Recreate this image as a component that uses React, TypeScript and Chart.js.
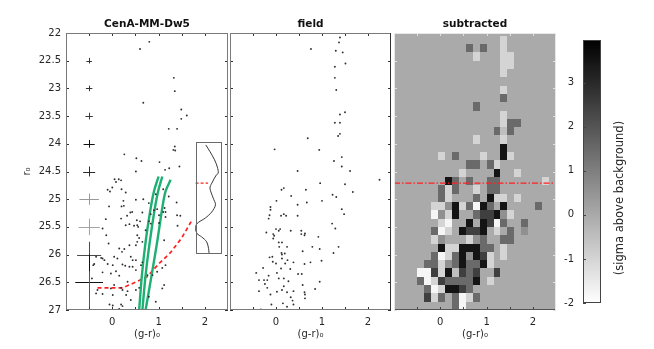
import React, { useEffect, useRef } from "react";
import { Chart, registerables } from "chart.js";

Chart.register(...registerables);

const FONT = "'DejaVu Sans', 'Liberation Sans', sans-serif";
const INK = "#262626";
Chart.defaults.font.family = FONT;

// ---------- axes ----------
const colorRange = [-1, 2.5];
const magRange = [22, 27];
const colorTicks = [-0.5, 0, 0.5, 1, 1.5, 2];
const colorTickLabels = ["", "0", "", "1", "", "2"];
const magTicks = [22, 22.5, 23, 23.5, 24, 24.5, 25, 25.5, 26, 26.5, 27];
const magTickLabels = ["22", "22.5", "23", "23.5", "24", "24.5", "25", "25.5", "26", "26.5", "27"];

const panelTitles = ["CenA-MM-Dw5", "field", "subtracted"];
const colorAxisTitle = "(g-r)₀";
const magAxisTitle = "r₀";
const colorbarTitle = "(sigma above background)";

// ---------- CenA-MM-Dw5 stars ----------
const dw5Color = [
  0.80, 0.60, 1.33, 1.35, 0.67, 1.49, 1.49, 1.61, 1.22, 1.40, 1.35, 1.32, 1.36, 0.26, 0.52, 0.63, 1.02, 1.14, 1.23, 1.45,
  0.51, 0.05, 0.14, 0.19, 0.08, 0.00, 0.20, -0.05, 0.29, 0.94, 1.10, 1.22, 0.51, 0.24, 0.67, 0.79, 0.20, 0.25, 1.39, 0.39,
  0.65, 0.32, 0.97, 1.10, 1.15, 0.83, 1.01, 1.15, 1.40, -0.14, 0.19, 0.53, 0.60, 0.37, 0.54, 0.56, 0.79, 0.83, 1.01, 1.47,
  1.41, 0.47, 0.72, 1.12, -0.08, 0.15, 0.21, 0.26, -0.24, -0.41, -0.17, 0.04, 0.11, 0.22, 0.28, 0.40, 0.44, 0.51, 0.54, 0.58,
  0.37, 0.62, 0.44, 0.51, 0.08, -0.03, -0.21, -0.44, 0.15, 0.33, -0.03, 0.19, 0.22, -0.35, -0.21, 0.01, 0.30, 0.33, -0.06, 0.01,
  0.19, 0.22, 0.15, 0.79, 0.94, 0.40, 1.08, 1.12, 0.87, 0.97, 1.15, -0.10, 0.90, 1.13, -0.32, 0.04, 0.51, 0.58, 0.76, 1.08,
  0.65, 0.51, 0.37, 0.01, -0.10, -0.21, -0.35, -0.39, -0.07, -0.21, -0.13, 0.29, 0.43, 0.54, 0.65,
];
const dw5Mag = [
  22.16, 22.29, 22.81, 23.05, 23.26, 23.38, 23.55, 23.49, 23.73, 23.73, 24.05, 24.11, 24.12, 24.19, 24.26, 24.31, 24.33, 24.47, 24.44, 24.41,
  24.50, 24.64, 24.64, 24.66, 24.69, 24.79, 24.82, 24.86, 24.88, 24.91, 24.82, 24.95, 25.01, 25.03, 25.00, 25.07, 25.13, 25.12, 25.06, 25.24,
  25.24, 25.30, 25.18, 25.23, 25.23, 25.27, 25.29, 25.32, 25.29, 25.36, 25.35, 25.38, 25.40, 25.45, 25.47, 25.50, 25.40, 25.44, 25.43, 25.30,
  25.48, 25.48, 25.56, 25.74, 25.80, 25.89, 25.95, 25.90, 26.06, 26.19, 26.10, 26.04, 26.07, 26.18, 26.20, 26.04, 26.10, 25.83, 25.77, 25.70,
  25.83, 26.19, 26.22, 26.28, 26.30, 26.34, 26.32, 26.43, 26.38, 26.49, 26.61, 26.60, 26.64, 26.70, 26.71, 26.73, 26.73, 26.66, 26.90, 26.92,
  26.90, 26.93, 26.98, 26.76, 26.85, 26.82, 26.61, 26.55, 26.37, 26.31, 26.19, 24.83, 25.20, 25.16, 26.64, 26.55, 26.64, 26.60, 26.37, 26.24,
  26.14, 26.10, 26.22, 26.19, 26.17, 26.07, 26.04, 26.17, 25.13, 25.53, 25.65, 25.47, 25.23, 25.65, 25.77,
];

// ---------- field stars ----------
const fieldColor = [
  1.39, 1.37, 0.76, 1.30, 1.45, 1.51, 1.28, 1.28, 1.31, 1.50, 1.39, 1.28, 1.39, 1.39, 1.35, 0.69, -0.03, 0.94, 1.43, 1.26,
  1.43, 0.47, 1.61, 2.25, 0.96, 1.50, 0.17, 0.12, 0.65, 1.67, 1.23, 1.31, 0.33, 0.01, 0.67, 1.00, 0.47, -0.12, -0.12, -0.14,
  -0.16, 0.17, 0.22, 0.11, 0.47, 1.43, 1.48, 1.22, 1.29, 0.00, 0.09, 0.06, -0.21, -0.06, -0.04, -0.06, 0.32, 0.55, 0.55, 0.63,
  0.62, 0.92, 0.06, 0.13, 0.07, 0.24, 0.79, 0.95, 1.36, 0.58, 1.25, 0.12, 0.19, 0.13, -0.14, -0.08, -0.07, 0.00, 0.13, 0.20,
  0.38, 0.25, 0.62, 0.75, 0.99, -0.28, 0.11, 0.31, 0.56, 0.48, -0.43, 0.02, -0.37, -0.26, -0.19, -0.16, 0.06, 0.17, 0.27, 0.95,
  -0.24, 0.17, 0.58, -0.19, -0.37, 0.85, 0.02, 0.13, 0.24, 0.38, 0.62, 0.63, -0.12, 0.32, 0.36, 0.15, -0.10, 0.38, 0.24, -0.33,
  0.63,
];
const fieldMag = [
  22.08, 22.17, 22.29, 22.32, 22.35, 22.55, 22.61, 22.81, 23.03, 23.43, 23.47, 23.62, 23.62, 23.82, 23.86, 23.90, 24.10, 24.11, 24.24, 24.31,
  24.41, 24.49, 24.49, 24.65, 24.71, 24.73, 24.80, 24.83, 24.83, 24.87, 24.92, 24.96, 24.94, 25.03, 25.06, 25.03, 25.10, 25.14, 25.19, 25.29,
  25.35, 25.27, 25.30, 25.30, 25.30, 25.18, 25.27, 25.44, 25.53, 25.54, 25.54, 25.57, 25.60, 25.63, 25.66, 25.71, 25.57, 25.57, 25.63, 25.62,
  25.65, 25.68, 25.78, 25.78, 25.86, 25.86, 25.86, 25.90, 25.86, 25.94, 25.97, 25.97, 25.98, 26.00, 26.05, 26.04, 26.13, 26.16, 26.07, 26.16,
  26.14, 26.10, 26.17, 26.14, 26.11, 26.24, 26.25, 26.26, 26.35, 26.35, 26.33, 26.33, 26.46, 26.46, 26.46, 26.38, 26.43, 26.43, 26.48, 26.49,
  26.53, 26.57, 26.55, 26.60, 26.66, 26.62, 26.67, 26.64, 26.68, 26.66, 26.68, 26.72, 26.72, 26.77, 26.83, 26.88, 26.90, 26.90, 26.94, 26.99,
  26.79,
];

// ---------- photometric error crosses ----------
const errColor = -0.5;
const errMag = [22.5, 23, 23.5, 24, 24.5, 25, 25.5, 26, 26.5, 27];
const errColorHalf = [0.06, 0.07, 0.08, 0.12, 0.13, 0.21, 0.23, 0.26, 0.3, 0.24];
const errMagHalf = [0.05, 0.05, 0.06, 0.07, 0.09, 0.1, 0.15, 0.23, 0.5, 0.7];

// ---------- isochrones ----------
const iso1Color = [0.58, 0.64, 0.72, 0.83, 0.9, 1.0];
const iso1Mag = [27.0, 26.37, 25.77, 25.16, 24.86, 24.59];
const iso2Color = [0.65, 0.72, 0.81, 0.92, 0.99, 1.08];
const iso2Mag = [27.0, 26.37, 25.77, 25.16, 24.86, 24.59];
const iso3Color = [0.72, 0.85, 0.97, 1.08, 1.15, 1.26];
const iso3Mag = [27.0, 26.37, 25.77, 25.16, 24.86, 24.65];

// ---------- completeness limit ----------
const limitColor = [-0.32, 0.22, 0.5, 0.75, 1.0, 1.25, 1.5, 1.72];
const limitMag = [26.6, 26.6, 26.5, 26.4, 26.17, 25.97, 25.7, 25.38];

// ---------- inset luminosity profile ----------
const insetFrameColor = [1.8, 2.35];
const insetFrameMag = [23.97, 25.97];
const insetProfileColor = [2.02, 2.11, 2.21, 2.27, 2.29, 2.25, 2.15, 2.11, 2.18, 2.23, 2.15, 2.01, 1.83, 1.8, 1.83, 1.93, 2.04, 2.08, 2.09];
const insetProfileMag = [24.02, 24.14, 24.29, 24.42, 24.53, 24.56, 24.71, 24.8, 24.98, 25.1, 25.23, 25.34, 25.44, 25.53, 25.62, 25.68, 25.77, 25.89, 25.97];
const insetMarkColor = [1.8, 2.07];
const tipMag = 24.71;

// ---------- subtracted density map ----------
const binColorEdges = [
  -0.95, -0.8, -0.65, -0.5, -0.35, -0.2, -0.05, 0.1, 0.25, 0.4, 0.55, 0.7,
  0.85, 1.0, 1.15, 1.3, 1.45, 1.6, 1.75, 1.9, 2.05, 2.2, 2.35, 2.5,
];
const binMagEdges = [
  22.05, 22.2, 22.35, 22.5, 22.65, 22.8, 22.95, 23.1, 23.25, 23.4, 23.55, 23.7,
  23.85, 24.0, 24.15, 24.3, 24.45, 24.6, 24.75, 24.9, 25.05, 25.2, 25.35, 25.5,
  25.65, 25.8, 25.95, 26.1, 26.25, 26.4, 26.55, 26.7, 26.85, 27.0,
];
const sigmaLevels: Record<string, number> = { ".": 0, w: -1.8, l: -1.0, m: -0.5, g: 0.6, d: 1.5, D: 2.5, k: 3.5 };
const sigmaRows = [
  "...............l.......",
  "..........d.d..l.......",
  "...........l...ll......",
  "...............ll......",
  "...............l.......",
  ".......................",
  "...............l.......",
  "...............d.......",
  "...........d...........",
  "...............l.......",
  "...............ldd.....",
  "..............dmd......",
  "...........l...l.......",
  "...............k.......",
  "......l.d...l..kl......",
  "..........dd.dl........",
  ".........l....k..l.....",
  ".......kd.d..dd......l.",
  "......dld..l.dd........",
  "......dl...d.kll.l.....",
  ".....llgkldwkd.k....d..",
  ".....wglk..dDDkgl......",
  "......lw..k.kDwd..d....",
  ".....dwl.kDDk.l.d.g....",
  ".....lg...lgd..dd......",
  "......kllkkkdd.l.......",
  ".....dwldkgkDl.l.......",
  "....ddlgdkddkl.........",
  "...wwDlkmDdD..D........",
  "...dwlDddddk.l.........",
  "....dwlkkDd............",
  "....Dld.dwld...........",
  "........dw.............",
];
const cbarMin = -2;
const cbarMax = 3.97;
const cbarTicks = [-2, -1, 0, 1, 2, 3];

// ---------- helpers ----------
const pts = (xs: number[], ys: number[]) => xs.map((x, i) => ({ x, y: ys[i] }));
const errShades = ["#333", "#333", "#3a3a3a", "#111", "#2a2a2a", "#999", "#a3a3a3", "#4a4a4a", "#111", "#555"];

function sigmaGray(s: number) {
  const t = Math.max(0, Math.min(1, (cbarMax - s) / (cbarMax - cbarMin)));
  const v = Math.round(255 * t);
  return `rgb(${v},${v},${v})`;
}

function colorAxis() {
  return {
    type: "linear",
    position: "bottom",
    min: colorRange[0],
    max: colorRange[1],
    afterBuildTicks: (s: any) => {
      s.ticks = colorTicks.map((v) => ({ value: v }));
    },
    afterFit: (s: any) => {
      s.height = 39;
    },
    grid: { display: false, drawTicks: false },
    border: { display: false },
    ticks: {
      autoSkip: false,
      maxRotation: 0,
      padding: 6,
      color: INK,
      font: { family: FONT, size: 10 },
      callback: (v: any) => colorTickLabels[colorTicks.indexOf(Number(v))] ?? "",
    },
    title: {
      display: true,
      text: colorAxisTitle,
      color: INK,
      font: { family: FONT, size: 10 },
      padding: { top: 0, bottom: 9 },
    },
  };
}

function magAxis(visible: boolean) {
  const base: any = {
    type: "linear",
    position: "left",
    min: magRange[0],
    max: magRange[1],
    reverse: true,
    display: visible,
    afterBuildTicks: (s: any) => {
      s.ticks = magTicks.map((v) => ({ value: v }));
    },
    grid: { display: false, drawTicks: false },
    border: { display: false },
    ticks: {
      autoSkip: false,
      padding: 5,
      color: INK,
      font: { family: FONT, size: 10 },
      callback: (v: any) => magTickLabels[magTicks.indexOf(Number(v))] ?? "",
    },
    title: {
      display: true,
      text: magAxisTitle,
      color: INK,
      font: { family: FONT, size: 10 },
      padding: { top: 21, bottom: 0 },
    },
  };
  if (visible) {
    base.afterFit = (s: any) => {
      s.width = 66;
    };
  }
  return base;
}

function titleOpts(text: string) {
  return {
    display: true,
    text,
    fullSize: false,
    color: "#111",
    font: { family: FONT, size: 10.5, weight: "bold", lineHeight: 1 },
    padding: { top: 18.75, bottom: 3.75 },
  };
}

type Sides = { top: string; right: string; bottom: string; left: string };

function framePlugin(frame: Sides, tick: Sides) {
  return {
    id: "frameTicks",
    afterDatasetsDraw(chart: any) {
      const { ctx, chartArea: a } = chart;
      const xs = chart.scales.x;
      const ys = chart.scales.y;
      const L = 3;
      ctx.save();
      ctx.lineWidth = 1;
      const seg = (x1: number, y1: number, x2: number, y2: number, c: string) => {
        ctx.strokeStyle = c;
        ctx.beginPath();
        ctx.moveTo(x1, y1);
        ctx.lineTo(x2, y2);
        ctx.stroke();
      };
      for (const v of colorTicks) {
        const p = Math.round(xs.getPixelForValue(v)) + 0.5;
        seg(p, a.bottom, p, a.bottom - L, tick.bottom);
        seg(p, a.top, p, a.top + L, tick.top);
      }
      for (const v of magTicks) {
        const p = Math.round(ys.getPixelForValue(v)) + 0.5;
        seg(a.left, p, a.left + L, p, tick.left);
        seg(a.right, p, a.right - L, p, tick.right);
      }
      seg(a.left, a.top + 0.5, a.right, a.top + 0.5, frame.top);
      seg(a.left, a.bottom - 0.5, a.right, a.bottom - 0.5, frame.bottom);
      seg(a.left + 0.5, a.top, a.left + 0.5, a.bottom, frame.left);
      seg(a.right - 0.5, a.top, a.right - 0.5, a.bottom, frame.right);
      ctx.restore();
    },
  };
}

const errorBarPlugin = {
  id: "errorBars",
  beforeDatasetsDraw(chart: any) {
    const { ctx, chartArea: a } = chart;
    const xs = chart.scales.x;
    const ys = chart.scales.y;
    ctx.save();
    ctx.beginPath();
    ctx.rect(a.left, a.top, a.right - a.left, a.bottom - a.top);
    ctx.clip();
    ctx.lineWidth = 1;
    errMag.forEach((m, i) => {
      const cx = Math.round(xs.getPixelForValue(errColor)) + 0.5;
      const cy = Math.round(ys.getPixelForValue(m)) + 0.5;
      ctx.strokeStyle = errShades[i];
      ctx.beginPath();
      ctx.moveTo(xs.getPixelForValue(errColor - errColorHalf[i]), cy);
      ctx.lineTo(xs.getPixelForValue(errColor + errColorHalf[i]), cy);
      ctx.moveTo(cx, ys.getPixelForValue(m - errMagHalf[i]));
      ctx.lineTo(cx, ys.getPixelForValue(m + errMagHalf[i]));
      ctx.stroke();
    });
    ctx.restore();
  },
};

const insetFramePlugin = {
  id: "insetFrame",
  afterDatasetsDraw(chart: any) {
    const { ctx } = chart;
    const xs = chart.scales.x;
    const ys = chart.scales.y;
    const x0 = Math.round(xs.getPixelForValue(insetFrameColor[0])) + 0.5;
    const x1 = Math.round(xs.getPixelForValue(insetFrameColor[1])) + 0.5;
    const y0 = Math.round(ys.getPixelForValue(insetFrameMag[0])) + 0.5;
    const y1 = Math.round(ys.getPixelForValue(insetFrameMag[1])) + 0.5;
    ctx.save();
    ctx.strokeStyle = "#6a6a6a";
    ctx.lineWidth = 1;
    ctx.strokeRect(x0, y0, x1 - x0, y1 - y0);
    ctx.restore();
  },
};

const heatmapPlugin = {
  id: "heatmap",
  beforeDatasetsDraw(chart: any) {
    const { ctx, chartArea: a } = chart;
    const xs = chart.scales.x;
    const ys = chart.scales.y;
    ctx.save();
    ctx.fillStyle = sigmaGray(0);
    ctx.fillRect(a.left, a.top, a.right - a.left, a.bottom - a.top);
    ctx.beginPath();
    ctx.rect(a.left, a.top, a.right - a.left, a.bottom - a.top);
    ctx.clip();
    sigmaRows.forEach((row, j) => {
      for (let i = 0; i < row.length; i++) {
        const s = sigmaLevels[row[i]] ?? 0;
        if (s === 0) continue;
        const x0 = Math.round(xs.getPixelForValue(binColorEdges[i]));
        const x1 = Math.round(xs.getPixelForValue(binColorEdges[i + 1]));
        const y0 = Math.round(ys.getPixelForValue(binMagEdges[j]));
        const y1 = Math.round(ys.getPixelForValue(binMagEdges[j + 1]));
        ctx.fillStyle = sigmaGray(s);
        ctx.fillRect(x0, y0, x1 - x0, y1 - y0);
      }
    });
    ctx.restore();
  },
};

const colorbarPlugin = {
  id: "colorbar",
  beforeDatasetsDraw(chart: any) {
    const { ctx, chartArea: a } = chart;
    const ys = chart.scales.y;
    const g = ctx.createLinearGradient(0, ys.getPixelForValue(cbarMin), 0, ys.getPixelForValue(cbarMax));
    g.addColorStop(0, sigmaGray(cbarMin));
    g.addColorStop(1, sigmaGray(cbarMax));
    ctx.save();
    ctx.fillStyle = g;
    ctx.fillRect(a.left, a.top, a.right - a.left, a.bottom - a.top);
    ctx.strokeStyle = "#444";
    ctx.lineWidth = 1;
    ctx.strokeRect(a.left + 0.5, a.top + 0.5, a.right - a.left - 1, a.bottom - a.top - 1);
    for (const v of cbarTicks) {
      const p = Math.round(ys.getPixelForValue(v)) + 0.5;
      ctx.beginPath();
      ctx.moveTo(a.left, p);
      ctx.lineTo(a.left + 3, p);
      ctx.stroke();
    }
    ctx.restore();
  },
  afterDraw(chart: any) {
    const { ctx, chartArea: a } = chart;
    ctx.save();
    ctx.translate(a.right + 19.5, 198);
    ctx.rotate(-Math.PI / 2);
    ctx.fillStyle = INK;
    ctx.font = `11.5px ${FONT}`;
    ctx.textAlign = "center";
    ctx.textBaseline = "middle";
    ctx.fillText(colorbarTitle, 0, 0);
    ctx.restore();
  },
};

const baseOptions = (padding: any, title: string, y: any) => ({
  responsive: false,
  animation: false,
  events: [],
  layout: { padding },
  plugins: { legend: { display: false }, tooltip: { enabled: false }, title: titleOpts(title) },
  scales: { x: colorAxis(), y },
});

const starStyle = { showLine: false, pointRadius: 0.95, pointBorderWidth: 0, pointBackgroundColor: "#2e2e2e" };

function isoSets(c: number[], m: number[]) {
  return [
    { data: pts(c, m), showLine: true, borderColor: "#1db072", borderWidth: 2.4, pointRadius: 0, tension: 0.3, clip: 0 },
    { data: pts(c, m), showLine: true, borderColor: "rgba(230,250,238,0.85)", borderWidth: 0.7, pointRadius: 0, tension: 0.3, clip: 0 },
  ];
}

function makeLeft(canvas: HTMLCanvasElement) {
  return new Chart(canvas, {
    type: "scatter",
    data: {
      datasets: [
        { data: pts(dw5Color, dw5Mag), ...starStyle },
        ...isoSets(iso1Color, iso1Mag),
        ...isoSets(iso2Color, iso2Mag),
        ...isoSets(iso3Color, iso3Mag),
        {
          data: pts(limitColor, limitMag),
          showLine: true,
          borderColor: "#ff1f1f",
          borderWidth: 1.7,
          borderDash: [4, 3],
          pointRadius: 0,
          tension: 0,
          clip: 0,
        },
        {
          data: pts(insetProfileColor, insetProfileMag),
          showLine: true,
          borderColor: "#222",
          borderWidth: 0.9,
          pointRadius: 0,
          tension: 0.3,
          clip: 0,
        },
        {
          data: pts(insetMarkColor, [tipMag, tipMag]),
          showLine: true,
          borderColor: "#ff1f1f",
          borderWidth: 1.2,
          borderDash: [3, 2],
          pointRadius: 0,
          clip: 0,
        },
      ],
    } as any,
    options: baseOptions({ top: 0, right: 3, bottom: 0, left: 0 }, panelTitles[0], magAxis(true)) as any,
    plugins: [
      errorBarPlugin,
      insetFramePlugin,
      framePlugin(
        { top: "#7a7a7a", right: "#7a7a7a", bottom: "#7a7a7a", left: "#7a7a7a" },
        { top: "#333", right: "#333", bottom: "#333", left: "#333" }
      ),
    ] as any,
  });
}

function makeMiddle(canvas: HTMLCanvasElement) {
  return new Chart(canvas, {
    type: "scatter",
    data: { datasets: [{ data: pts(fieldColor, fieldMag), ...starStyle }] } as any,
    options: baseOptions({ top: 0, right: 3, bottom: 0, left: 3 }, panelTitles[1], magAxis(false)) as any,
    plugins: [
      framePlugin(
        { top: "#7a7a7a", right: "#333", bottom: "#7a7a7a", left: "#7a7a7a" },
        { top: "#333", right: "#333", bottom: "#333", left: "#333" }
      ),
    ] as any,
  });
}

function makeRight(canvas: HTMLCanvasElement) {
  return new Chart(canvas, {
    type: "scatter",
    data: {
      datasets: [
        {
          data: pts(colorRange, [tipMag, tipMag]),
          showLine: true,
          borderColor: "#ff2020",
          borderWidth: 1.3,
          borderDash: [6, 2, 1.5, 2],
          pointRadius: 0,
          clip: 0,
        },
      ],
    } as any,
    options: baseOptions({ top: 0, right: 4, bottom: 0, left: 4 }, panelTitles[2], magAxis(false)) as any,
    plugins: [
      heatmapPlugin,
      framePlugin(
        { top: "#e8e8e8", right: "#e8e8e8", bottom: "#555", left: "#e8e8e8" },
        { top: "#e0e0e0", right: "#e0e0e0", bottom: "#444", left: "#e0e0e0" }
      ),
    ] as any,
  });
}

function makeColorbar(canvas: HTMLCanvasElement) {
  return new Chart(canvas, {
    type: "scatter",
    data: { datasets: [] },
    options: {
      responsive: false,
      animation: false,
      events: [],
      layout: { padding: { top: 40, right: 53, bottom: 46, left: 0 } },
      plugins: { legend: { display: false }, tooltip: { enabled: false } },
      scales: {
        x: { type: "linear", display: false, min: 0, max: 1 },
        y: {
          type: "linear",
          position: "left",
          min: cbarMin,
          max: cbarMax,
          afterBuildTicks: (s: any) => {
            s.ticks = cbarTicks.map((v) => ({ value: v }));
          },
          afterFit: (s: any) => {
            s.width = 28;
          },
          grid: { display: false, drawTicks: false },
          border: { display: false },
          ticks: { autoSkip: false, padding: 9, color: INK, font: { family: FONT, size: 10 } },
        },
      },
    } as any,
    plugins: [colorbarPlugin] as any,
  });
}

export default function App() {
  const leftRef = useRef<HTMLCanvasElement>(null);
  const midRef = useRef<HTMLCanvasElement>(null);
  const rightRef = useRef<HTMLCanvasElement>(null);
  const cbarRef = useRef<HTMLCanvasElement>(null);

  useEffect(() => {
    const charts = [
      makeLeft(leftRef.current!),
      makeMiddle(midRef.current!),
      makeRight(rightRef.current!),
      makeColorbar(cbarRef.current!),
    ];
    return () => charts.forEach((c) => c.destroy());
  }, []);

  const abs = (left: number, width: number): React.CSSProperties => ({
    position: "absolute",
    left,
    top: 0,
    width,
    height: 349,
  });

  return (
    <div style={{ position: "absolute", left: 0, top: 0, width: 654, height: 349, background: "#fff", overflow: "hidden" }}>
      <canvas ref={leftRef} width={232} height={349} style={abs(0, 232)} />
      <canvas ref={midRef} width={169} height={349} style={abs(226, 169)} />
      <canvas ref={rightRef} width={170} height={349} style={abs(390, 170)} />
      <canvas ref={cbarRef} width={99} height={349} style={abs(555, 99)} />
    </div>
  );
}
